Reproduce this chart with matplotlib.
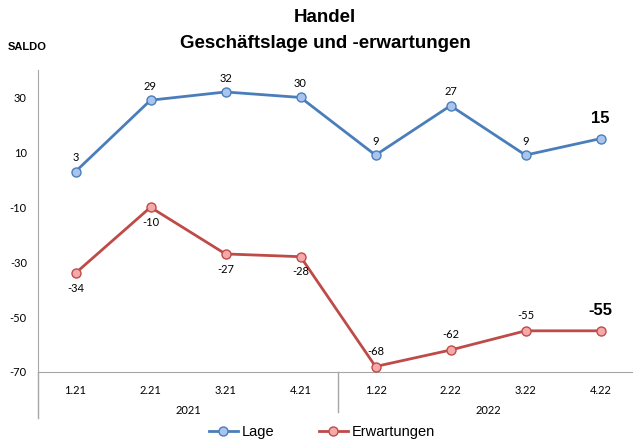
import matplotlib
matplotlib.use("Agg")
import matplotlib.pyplot as plt

# ── Daten ─────────────────────────────────────────────────────────────────────
quartale = ["1.21", "2.21", "3.21", "4.21", "1.22", "2.22", "3.22", "4.22"]
jahre = ["2021", "2022"]
lage = [3, 29, 32, 30, 9, 27, 9, 15]
erwartungen = [-34, -10, -27, -28, -68, -62, -55, -55]
# Beschriftung über (+1) oder unter (-1) dem Punkt
pos_erw = [-1, -1, -1, -1, 1, 1, 1, 1]

blau, blau_hell = "#4A7EBB", "#A9C5EE"
rot, rot_hell = "#BE4B48", "#F5AAAA"
grau = "#A6A6A6"

plt.rcParams["font.family"] = ["Liberation Sans", "DejaVu Sans"]
plt.rcParams["axes.unicode_minus"] = False

fig = plt.figure(figsize=(6.33, 4.41), dpi=100)
W, H = 633, 441
ax = fig.add_axes([38 / W, 1 - 372 / H, 600 / W, (372 - 70) / H])

x = list(range(len(quartale)))
ax.plot(x, lage, color=blau, lw=2, marker="o", ms=6.5, mfc=blau_hell,
        mec=blau, mew=1, label="Lage", zorder=3)
ax.plot(x, erwartungen, color=rot, lw=2, marker="o", ms=6.5, mfc=rot_hell,
        mec=rot, mew=1, label="Erwartungen", zorder=3)

ax.set_xlim(-0.5, 7.5)
ax.set_ylim(-70, 40)
ax.set_yticks([30, 10, -10, -30, -50, -70])
ax.tick_params(axis="y", length=0, labelsize=8, pad=8)
ax.set_xticks(x)
ax.set_xticklabels(quartale, fontsize=8, family="Lato")
ax.tick_params(axis="x", length=0, pad=9)
for lbl in ax.get_yticklabels():
    lbl.set_family("Lato")

for s in ["top", "right"]:
    ax.spines[s].set_visible(False)
ax.spines["left"].set_color(grau)
ax.spines["bottom"].set_color(grau)
ax.spines["left"].set_bounds(-70, 40)

# Datenbeschriftungen
last = len(x) - 1
for i, v in enumerate(lage):
    if i == last:
        ax.annotate(str(v), (i, v), xytext=(0, 9), textcoords="offset points",
                    ha="center", va="bottom", fontsize=12, fontweight="bold")
    else:
        ax.annotate(str(v), (i, v), xytext=(0, 6), textcoords="offset points",
                    ha="center", va="bottom", fontsize=8, family="Lato")
for i, (v, p) in enumerate(zip(erwartungen, pos_erw)):
    if i == last:
        ax.annotate(str(v), (i, v), xytext=(0, 9), textcoords="offset points",
                    ha="center", va="bottom", fontsize=12, fontweight="bold")
    else:
        ax.annotate(str(v), (i, v), xytext=(0, 7 * p), textcoords="offset points",
                    ha="center", va="bottom" if p > 0 else "top", fontsize=8,
                    family="Lato")

# Jahresachse
trans = ax.get_xaxis_transform()
ax.plot([-0.5, -0.5], [0, -46 / 302], color=grau, lw=1, transform=trans,
        clip_on=False)
ax.plot([3.5, 3.5], [0, -40 / 302], color=grau, lw=1, transform=trans,
        clip_on=False)
for j, jahr in enumerate(jahre):
    ax.text(1.5 + 4 * j, -38 / 302, jahr, transform=trans, ha="center",
            va="center", fontsize=8, family="Lato")

fig.text(325 / W, 1 - 18 / H, "Handel", ha="center", va="center",
         fontsize=13.5, fontweight="bold")
fig.text(325 / W, 1 - 44 / H, "Geschäftslage und -erwartungen", ha="center",
         va="center", fontsize=13.5, fontweight="bold")
fig.text(8 / W, 1 - 47 / H, "SALDO", ha="left", va="center", fontsize=8,
         fontweight="bold")

fig.legend(loc="center", bbox_to_anchor=(322 / W, 1 - 432 / H), ncol=2,
           frameon=False, fontsize=10.5, handlelength=2, handletextpad=0.3,
           columnspacing=3, borderaxespad=0)

fig.savefig("out.png", dpi=100)
